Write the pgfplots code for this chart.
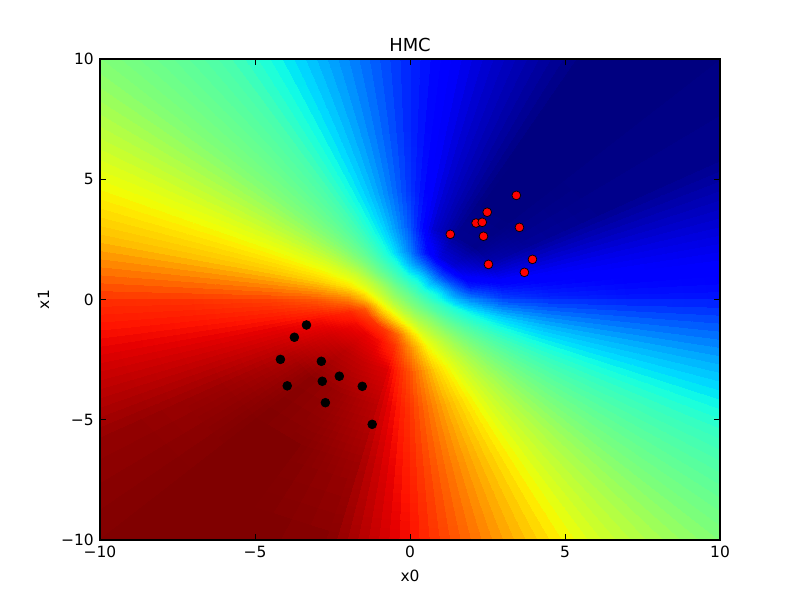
\documentclass[border=0pt]{standalone}
\usepackage{fontspec}
\setmainfont{DejaVu Sans}
\usepackage{pgfplots}
\usepackage{pgfplotstable}
\pgfplotsset{compat=1.18}
\usepgfplotslibrary{patchplots}

% matplotlib "jet"
\pgfplotsset{colormap={mpljet}{rgb(0pt)=(0,0,0.5) rgb(22pt)=(0,0,1) rgb(25pt)=(0,0,1)
  rgb(68pt)=(0,0.86,1) rgb(70pt)=(0,0.9,0.968) rgb(75pt)=(0.081,1,0.887)
  rgb(128pt)=(0.935,1,0.032) rgb(130pt)=(0.968,0.963,0) rgb(132pt)=(1,0.926,0)
  rgb(178pt)=(1,0.074,0) rgb(182pt)=(0.909,0,0) rgb(200pt)=(0.5,0,0)}}

% predictive probability read along rays: angle a (deg), radius r, value p
\pgfplotstableread[row sep=\\]{
a r p\\
0 0 0.49\\ 15 0 0.49\\ 30 0 0.49\\ 45 0 0.49\\ 60 0 0.49\\ 75 0 0.49\\ 90 0 0.49\\ 105 0 0.49\\ 120 0 0.49\\ 135 0 0.49\\ 150 0 0.49\\ 165 0 0.49\\ 180 0 0.49\\ 195 0 0.49\\ 210 0 0.49\\ 225 0 0.49\\ 240 0 0.49\\ 255 0 0.49\\ 270 0 0.49\\ 285 0 0.49\\ 300 0 0.49\\ 315 0 0.49\\ 330 0 0.49\\ 345 0 0.49\\ 360 0 0.49\\
0 0.5 0.43\\ 15 0.5 0.42\\ 30 0.5 0.41\\ 45 0.5 0.40\\ 60 0.5 0.41\\ 75 0.5 0.42\\ 90 0.5 0.43\\ 105 0.5 0.45\\ 120 0.5 0.47\\ 135 0.5 0.49\\ 150 0.5 0.51\\ 165 0.5 0.53\\ 180 0.5 0.55\\ 195 0.5 0.565\\ 210 0.5 0.575\\ 225 0.5 0.58\\ 240 0.5 0.575\\ 255 0.5 0.565\\ 270 0.5 0.55\\ 285 0.5 0.53\\ 300 0.5 0.51\\ 315 0.5 0.49\\ 330 0.5 0.47\\ 345 0.5 0.45\\ 360 0.5 0.43\\
0 1 0.37\\ 15 1 0.35\\ 30 1 0.32\\ 45 1 0.30\\ 60 1 0.32\\ 75 1 0.35\\ 90 1 0.37\\ 105 1 0.41\\ 120 1 0.45\\ 135 1 0.50\\ 150 1 0.55\\ 165 1 0.59\\ 180 1 0.63\\ 195 1 0.67\\ 210 1 0.69\\ 225 1 0.70\\ 240 1 0.69\\ 255 1 0.66\\ 270 1 0.62\\ 285 1 0.575\\ 300 1 0.54\\ 315 1 0.50\\ 330 1 0.45\\ 345 1 0.42\\ 360 1 0.37\\
0 1.5 0.30\\ 15 1.5 0.24\\ 30 1.5 0.19\\ 45 1.5 0.17\\ 60 1.5 0.19\\ 75 1.5 0.24\\ 90 1.5 0.30\\ 105 1.5 0.38\\ 120 1.5 0.44\\ 135 1.5 0.50\\ 150 1.5 0.58\\ 165 1.5 0.64\\ 180 1.5 0.72\\ 195 1.5 0.82\\ 210 1.5 0.85\\ 225 1.5 0.86\\ 240 1.5 0.85\\ 255 1.5 0.80\\ 270 1.5 0.70\\ 285 1.5 0.62\\ 300 1.5 0.56\\ 315 1.5 0.50\\ 330 1.5 0.44\\ 345 1.5 0.385\\ 360 1.5 0.30\\
0 2 0.25\\ 15 2 0.15\\ 30 2 0.10\\ 45 2 0.07\\ 60 2 0.08\\ 75 2 0.14\\ 90 2 0.25\\ 105 2 0.35\\ 120 2 0.43\\ 135 2 0.51\\ 150 2 0.60\\ 165 2 0.67\\ 180 2 0.78\\ 195 2 0.87\\ 210 2 0.90\\ 225 2 0.91\\ 240 2 0.90\\ 255 2 0.86\\ 270 2 0.76\\ 285 2 0.65\\ 300 2 0.58\\ 315 2 0.505\\ 330 2 0.435\\ 345 2 0.36\\ 360 2 0.25\\
0 3 0.185\\ 15 3 0.11\\ 30 3 0.04\\ 45 3 0.01\\ 60 3 0.015\\ 75 3 0.07\\ 90 3 0.21\\ 105 3 0.33\\ 120 3 0.43\\ 135 3 0.51\\ 150 3 0.61\\ 165 3 0.69\\ 180 3 0.82\\ 195 3 0.895\\ 210 3 0.93\\ 225 3 0.95\\ 240 3 0.94\\ 255 3 0.92\\ 270 3 0.82\\ 285 3 0.69\\ 300 3 0.60\\ 315 3 0.51\\ 330 3 0.43\\ 345 3 0.33\\ 360 3 0.185\\
0 4.5 0.16\\ 15 4.5 0.10\\ 30 4.5 0.02\\ 45 4.5 0.0\\ 60 4.5 0.005\\ 75 4.5 0.07\\ 90 4.5 0.18\\ 105 4.5 0.31\\ 120 4.5 0.435\\ 135 4.5 0.51\\ 150 4.5 0.615\\ 165 4.5 0.70\\ 180 4.5 0.845\\ 195 4.5 0.91\\ 210 4.5 0.955\\ 225 4.5 0.99\\ 240 4.5 0.975\\ 255 4.5 0.95\\ 270 4.5 0.85\\ 285 4.5 0.72\\ 300 4.5 0.61\\ 315 4.5 0.51\\ 330 4.5 0.42\\ 345 4.5 0.305\\ 360 4.5 0.16\\
0 7 0.145\\ 15 7 0.09\\ 30 7 0.01\\ 45 7 0.0\\ 60 7 0.0\\ 75 7 0.07\\ 90 7 0.165\\ 105 7 0.305\\ 120 7 0.44\\ 135 7 0.51\\ 150 7 0.62\\ 165 7 0.705\\ 180 7 0.86\\ 195 7 0.92\\ 210 7 0.975\\ 225 7 1.0\\ 240 7 0.995\\ 255 7 0.975\\ 270 7 0.87\\ 285 7 0.74\\ 300 7 0.615\\ 315 7 0.505\\ 330 7 0.415\\ 345 7 0.295\\ 360 7 0.145\\
0 10 0.14\\ 15 10 0.08\\ 30 10 0.01\\ 45 10 0.0\\ 60 10 0.0\\ 75 10 0.07\\ 90 10 0.165\\ 105 10 0.30\\ 120 10 0.44\\ 135 10 0.51\\ 150 10 0.62\\ 165 10 0.71\\ 180 10 0.865\\ 195 10 0.93\\ 210 10 0.985\\ 225 10 1.0\\ 240 10 1.0\\ 255 10 0.99\\ 270 10 0.89\\ 285 10 0.75\\ 300 10 0.61\\ 315 10 0.50\\ 330 10 0.415\\ 345 10 0.29\\ 360 10 0.14\\
0 14.5 0.14\\ 15 14.5 0.08\\ 30 14.5 0.01\\ 45 14.5 0.0\\ 60 14.5 0.0\\ 75 14.5 0.07\\ 90 14.5 0.165\\ 105 14.5 0.30\\ 120 14.5 0.44\\ 135 14.5 0.51\\ 150 14.5 0.62\\ 165 14.5 0.71\\ 180 14.5 0.865\\ 195 14.5 0.93\\ 210 14.5 0.985\\ 225 14.5 1.0\\ 240 14.5 1.0\\ 255 14.5 0.99\\ 270 14.5 0.89\\ 285 14.5 0.75\\ 300 14.5 0.61\\ 315 14.5 0.50\\ 330 14.5 0.415\\ 345 14.5 0.29\\ 360 14.5 0.14\\
}\field

\pgfplotstableread{
x y
1.30 2.71
2.13 3.18
2.33 3.21
2.49 3.63
3.43 4.33
3.53 3.00
2.37 2.63
2.53 1.46
3.95 1.67
3.69 1.13
}\classone

\pgfplotstableread{
x y
-3.34 -1.06
-3.73 -1.57
-4.18 -2.49
-2.86 -2.57
-2.28 -3.19
-3.96 -3.59
-2.83 -3.40
-1.54 -3.61
-2.73 -4.29
-1.22 -5.19
}\classzero

\begin{document}
\begin{tikzpicture}
\path[use as bounding box] (-2cm,-1.2cm) rectangle (14cm,10.8cm);
\begin{axis}[
    at={(0,0)}, anchor=south west,
    scale only axis, width=12.4cm, height=9.62cm,
    xmin=-10, xmax=10, ymin=-10, ymax=10,
    colormap name=mpljet, point meta min=0, point meta max=1,
    axis on top,
    xtick={-10,-5,0,5,10}, ytick={-10,-5,0,5,10},
    xticklabels={−10,−5,0,5,10}, yticklabels={−10,−5,0,5,10},
    tick align=inside, major tick length=0.12cm,
    tick style={black, line width=0.5pt},
    axis line style={line width=0.6pt},
    ticklabel style={font=\fontsize{8.8}{10}\selectfont},
    title={HMC}, title style={font=\fontsize{10.2}{12}\selectfont, yshift=-0.2cm},
    xlabel={x0}, ylabel={x1},
    label style={font=\fontsize{8.8}{10}\selectfont},
]
\addplot[patch, patch type=bilinear, mesh input=lattice, mesh/cols=25,
    shader=interp, point meta=\thisrow{p}]
    table[x expr={\thisrow{r}*cos(\thisrow{a})}, y expr={\thisrow{r}*sin(\thisrow{a})}] {\field};
\addplot[only marks, mark=*, mark size=2.5pt,
    mark options={fill=red, draw=black, line width=0.4pt}] table {\classone};
\addplot[only marks, mark=*, mark size=2.5pt,
    mark options={fill=black, draw=black, line width=0.4pt}] table {\classzero};
\end{axis}
\end{tikzpicture}
\end{document}
